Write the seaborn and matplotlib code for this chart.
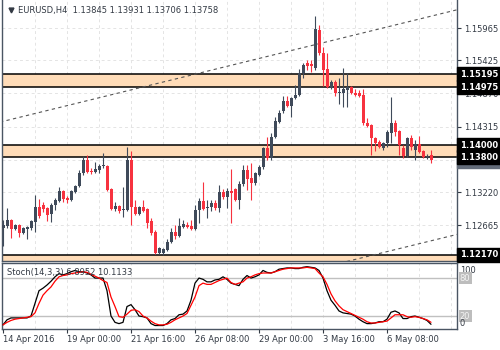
import matplotlib
matplotlib.use("Agg")
import matplotlib.pyplot as plt
import seaborn as sns
import numpy as np
import pandas as pd

# ---------------- data ----------------
symbol_title = "EURUSD,H4  1.13845 1.13931 1.13706 1.13758"
stoch_title = "Stoch(14,3,3) 6.8952 10.1133"

opens = [1.1262, 1.1265, 1.1275, 1.1260, 1.1267, 1.1253, 1.1260, 1.1262, 1.1272, 1.1297,
         1.1300, 1.1295, 1.1285, 1.1300, 1.1307, 1.1324, 1.1312, 1.1309, 1.1322, 1.1332,
         1.1354, 1.1376, 1.1357, 1.1355, 1.1359, 1.1365, 1.1365, 1.1327, 1.1294, 1.1299,
         1.1292, 1.1292, 1.1376, 1.1297, 1.1285, 1.1297, 1.1294, 1.1274, 1.1255, 1.1220,
         1.1220, 1.1225, 1.1238, 1.1255, 1.1248, 1.1263, 1.1267, 1.1265, 1.1260, 1.1292,
         1.1307, 1.1295, 1.1297, 1.1304, 1.1295, 1.1322, 1.1314, 1.1324, 1.1327, 1.1309,
         1.1335, 1.1359, 1.1345, 1.1337, 1.1350, 1.1364, 1.1396, 1.1379, 1.1414, 1.1439,
         1.1458, 1.1474, 1.1466, 1.1479, 1.1484, 1.1521, 1.1538, 1.1536, 1.1530, 1.1593,
         1.1555, 1.1528, 1.1496, 1.1506, 1.1488, 1.1488, 1.1493, 1.1498, 1.1488, 1.1488,
         1.1484, 1.1438, 1.1434, 1.1412, 1.1406, 1.1396, 1.1404, 1.1421, 1.1438, 1.1424,
         1.1396, 1.1382, 1.1412, 1.1392, 1.1402, 1.1391, 1.1381, 1.13845]
highs = [1.1275, 1.1295, 1.1277, 1.1269, 1.1269, 1.1263, 1.1265, 1.1275, 1.1317, 1.1310,
         1.1305, 1.1297, 1.1304, 1.1312, 1.1330, 1.1325, 1.1315, 1.1325, 1.1334, 1.1359,
         1.1382, 1.1384, 1.1362, 1.1372, 1.1369, 1.1387, 1.1367, 1.1329, 1.1305, 1.1300,
         1.1330, 1.1397, 1.1391, 1.1309, 1.1299, 1.1309, 1.1295, 1.1279, 1.1258, 1.1230,
         1.1228, 1.1243, 1.1262, 1.1267, 1.1279, 1.1275, 1.1272, 1.1275, 1.1300, 1.1312,
         1.1339, 1.1309, 1.1309, 1.1309, 1.1334, 1.1327, 1.1329, 1.1360, 1.1329, 1.1340,
         1.1367, 1.1367, 1.1371, 1.1355, 1.1367, 1.1397, 1.1414, 1.1421, 1.1448, 1.1459,
         1.1483, 1.1483, 1.1481, 1.1501, 1.1528, 1.1538, 1.1543, 1.1543, 1.1617, 1.1602,
         1.1565, 1.1555, 1.1509, 1.1509, 1.1513, 1.1530, 1.1521, 1.1499, 1.1494, 1.1493,
         1.1494, 1.1446, 1.1436, 1.1414, 1.1409, 1.1406, 1.1426, 1.1481, 1.1443, 1.1426,
         1.1401, 1.1414, 1.1417, 1.1409, 1.1416, 1.1392, 1.1386, 1.13931]
lows = [1.1231, 1.1262, 1.1245, 1.1258, 1.1247, 1.1252, 1.1243, 1.1258, 1.1255, 1.1279,
        1.1289, 1.1274, 1.1272, 1.1292, 1.1305, 1.1305, 1.1304, 1.1307, 1.1320, 1.1330,
        1.1350, 1.1354, 1.1352, 1.1354, 1.1354, 1.1362, 1.1324, 1.1292, 1.1290, 1.1287,
        1.1280, 1.1290, 1.1267, 1.1284, 1.1284, 1.1289, 1.1262, 1.1250, 1.1218, 1.1218,
        1.1216, 1.1223, 1.1237, 1.1243, 1.1247, 1.1262, 1.1262, 1.1258, 1.1258, 1.1270,
        1.1292, 1.1279, 1.1290, 1.1292, 1.1289, 1.1310, 1.1295, 1.1270, 1.1307, 1.1294,
        1.1332, 1.1325, 1.1309, 1.1334, 1.1349, 1.1360, 1.1376, 1.1376, 1.1412, 1.1438,
        1.1454, 1.1464, 1.1448, 1.1478, 1.1483, 1.1513, 1.1526, 1.1523, 1.1526, 1.1551,
        1.1499, 1.1496, 1.1494, 1.1483, 1.1469, 1.1464, 1.1464, 1.1486, 1.1483, 1.1481,
        1.1434, 1.1431, 1.1384, 1.1391, 1.1396, 1.1392, 1.1397, 1.1404, 1.1416, 1.1384,
        1.1379, 1.1381, 1.1392, 1.1376, 1.1387, 1.1379, 1.1378, 1.13706]
closes = [1.1267, 1.1275, 1.1260, 1.1267, 1.1253, 1.1262, 1.1263, 1.1274, 1.1297, 1.1282,
          1.1294, 1.1284, 1.1300, 1.1309, 1.1324, 1.1310, 1.1309, 1.1324, 1.1332, 1.1354,
          1.1376, 1.1355, 1.1355, 1.1360, 1.1365, 1.1367, 1.1325, 1.1294, 1.1299, 1.1290,
          1.1294, 1.1376, 1.1297, 1.1285, 1.1297, 1.1290, 1.1270, 1.1253, 1.1220, 1.1228,
          1.1226, 1.1238, 1.1255, 1.1248, 1.1265, 1.1269, 1.1263, 1.1260, 1.1292, 1.1307,
          1.1294, 1.1297, 1.1304, 1.1295, 1.1322, 1.1314, 1.1324, 1.1320, 1.1309, 1.1335,
          1.1359, 1.1344, 1.1337, 1.1354, 1.1364, 1.1396, 1.1379, 1.1414, 1.1441, 1.1454,
          1.1474, 1.1466, 1.1479, 1.1484, 1.1521, 1.1535, 1.1533, 1.1533, 1.1595, 1.1555,
          1.1526, 1.1498, 1.1506, 1.1488, 1.1489, 1.1494, 1.1498, 1.1488, 1.1484, 1.1483,
          1.1438, 1.1433, 1.1412, 1.1404, 1.1397, 1.1404, 1.1422, 1.1438, 1.1422, 1.1401,
          1.1382, 1.1412, 1.1397, 1.1402, 1.1389, 1.1381, 1.1382, 1.13758]

stoch_main = [6, 14, 17, 17, 17, 17, 17, 20, 40, 60,
              64, 69, 75, 82, 87, 85, 87, 90, 92, 90,
              90, 88, 85, 80, 80, 80, 60, 20, 10, 8,
              10, 35, 38, 30, 20, 19, 17, 8, 5, 5,
              5, 8, 14, 16, 22, 23, 28, 45, 72, 80,
              78, 74, 74, 77, 78, 82, 78, 72, 70, 68,
              78, 84, 80, 82, 85, 92, 89, 88, 90, 94,
              95, 96, 96, 95, 95, 97, 98, 97, 96, 92,
              80, 60, 45, 37, 28, 25, 24, 23, 20, 15,
              11, 8, 8, 9, 11, 11, 15, 26, 28, 25,
              16, 16, 19, 20, 18, 16, 13, 6.9]
stoch_signal = [6, 10, 13, 15, 16, 17, 18, 19, 25, 40,
                53, 60, 66, 75, 82, 84, 85, 87, 88, 89,
                90, 89, 86, 83, 80, 76, 73, 50, 35, 19,
                18, 23, 29, 30, 27, 20, 17, 12, 8, 6,
                6, 7, 10, 14, 17, 20, 24, 37, 50, 68,
                72, 70, 70, 73, 76, 78, 80, 73, 70, 72,
                74, 80, 82, 85, 87, 88, 88, 88, 90, 92,
                94, 95, 96, 96, 96, 96, 97, 96, 95, 88,
                82, 70, 55, 44, 36, 30, 27, 24, 21, 18,
                15, 11, 9, 9, 10, 11, 12, 17, 22, 22,
                22, 19, 18, 19, 18, 16, 14, 10.1]

price_ticks = [1.15965, 1.15425, 1.14870, 1.14315, 1.13760, 1.13220, 1.12665]
price_tick_labels = ["1.15965", "1.15425", "1.14870", "1.14315", "", "1.13220", "1.12665"]
zones = [(1.14975, 1.15195), (1.13800, 1.14000), (1.12000, 1.12170)]
level_tags = [1.15195, 1.14975, 1.14000, 1.13800, 1.12170]
current_price = 1.13758
date_pos = [0, 16, 32, 48, 64, 80, 96]
date_labels = ["14 Apr 2016", "19 Apr 00:00", "21 Apr 16:00", "26 Apr 08:00",
               "29 Apr 00:00", "3 May 16:00", "6 May 08:00"]
upper_trend_x = [-0.75, 113.5]
upper_trend_y = [1.1439, 1.1627]
lower_trend_x = [60, 113.5]
lower_trend_y = [1.1163, 1.1251]
stoch_levels = [20, 80]

# ---------------- style ----------------
sns.set_theme(style="white")
plt.rcParams["font.family"] = ["DejaVu Sans"]
TXT = "#333a44"
SPINE = "#4a5563"
BULL = "#3f4a5a"
BEAR = "#f7323f"
GRID = "#e4e4e4"
ZONE = "#ffdcb8"

fig = plt.figure(figsize=(5, 3.5), dpi=100, facecolor="white")
ax = fig.add_axes([0.004, 1 - 261 / 350, 0.91, 261 / 350])
ax2 = fig.add_axes([0.004, 1 - 329 / 350, 0.91, 66 / 350])

df = pd.DataFrame({"o": opens, "h": highs, "l": lows, "c": closes})
df["bar"] = np.arange(len(df))
df["bull"] = df["c"] >= df["o"]
cols = np.where(df["bull"], BULL, BEAR)

xmin, xmax = -0.25, 113.5

# ---- main panel ----
for lo, hi in zones:
    ax.axhspan(lo, hi, color=ZONE, lw=0, zorder=1)
    ax.axhline(lo, color="black", lw=1.1, zorder=2)
    ax.axhline(hi, color="black", lw=1.1, zorder=2)

for g in range(8, 114, 8):
    ax.axvline(g, color=GRID, lw=0.7, ls=(0, (3, 3)), zorder=0.5)
    ax2.axvline(g, color=GRID, lw=0.7, ls=(0, (3, 3)), zorder=0.5)
for p in price_ticks:
    ax.axhline(p, color=GRID, lw=0.7, ls=(0, (3, 3)), zorder=0.5)

sns.lineplot(x=upper_trend_x, y=upper_trend_y, ax=ax, color="#555555", lw=0.8,
             linestyle=(0, (3, 3)), zorder=2.5)
sns.lineplot(x=lower_trend_x, y=lower_trend_y, ax=ax, color="#555555", lw=0.8,
             linestyle=(0, (3, 3)), zorder=2.5)

ax.vlines(df["bar"], df["l"], df["h"], colors=cols, lw=0.8, zorder=3)
body_lo = np.minimum(df["o"], df["c"])
body_h = np.maximum(np.abs(df["c"] - df["o"]), 0.00012)
ax.bar(df["bar"], body_h, bottom=body_lo, width=0.75, color=cols, lw=0, zorder=4)

ax.set_xlim(xmin, xmax)
ax.set_ylim(1.12065, 1.16434)
ax.set_xticks([])
ax.yaxis.tick_right()
ax.set_yticks(price_ticks)
ax.set_yticklabels(price_tick_labels)
ax.tick_params(axis="y", labelsize=6, colors=TXT, length=3, width=0.8, pad=2, right=True)
ax.set_xlabel("")
ax.set_ylabel("")
for s in ["left", "right", "bottom"]:
    ax.spines[s].set_color(SPINE)
    ax.spines[s].set_linewidth(1)
ax.spines["top"].set_visible(False)

ax.annotate(f"{current_price:.5f}", xy=(1.0, current_price),
            xycoords=("axes fraction", "data"), xytext=(2, -1), textcoords="offset points",
            ha="left", va="center", fontsize=6, color="white", fontweight="bold",
            bbox=dict(boxstyle="square,pad=0.3", fc="#646d7a", ec="#646d7a"),
            annotation_clip=False, zorder=9)
for p in level_tags:
    ax.annotate(f"{p:.5f}", xy=(1.0, p), xycoords=("axes fraction", "data"),
                xytext=(2, 0), textcoords="offset points", ha="left", va="center",
                fontsize=6, color="white", fontweight="bold",
                bbox=dict(boxstyle="square,pad=0.3", fc="black", ec="black"),
                annotation_clip=False, zorder=10)

# ---- stochastic panel ----
for lv in stoch_levels:
    ax2.axhline(lv, color="#c0c0c0", lw=1, zorder=1)
bars = np.arange(len(stoch_main))
sns.lineplot(x=bars, y=stoch_main, ax=ax2, color="black", lw=0.9, zorder=3)
sns.lineplot(x=bars, y=stoch_signal, ax=ax2, color="red", lw=0.9, zorder=4)
ax2.set_xlim(xmin, xmax)
ax2.set_ylim(-0.5, 103.8)
ax2.set_yticks([])
ax2.set_xticks(date_pos)
ax2.set_xticklabels(date_labels)
ax2.tick_params(axis="x", labelsize=6, colors=TXT, length=3, width=0.8, pad=1.5,
                bottom=True, direction="out")
for lbl in ax2.get_xticklabels():
    lbl.set_ha("left")
ax2.set_xlabel("")
ax2.set_ylabel("")
for s in ax2.spines.values():
    s.set_color(SPINE)
    s.set_linewidth(1)

for val, txt, boxed in [(92.5, "100", False), (80, "80", True), (20, "20", True), (8, "0", False)]:
    kw = dict(xy=(1.0, val), xycoords=("axes fraction", "data"), xytext=(2, 0),
              textcoords="offset points", ha="left", va="center", fontsize=6,
              annotation_clip=False)
    if boxed:
        ax2.annotate(txt, color="#f4f4f4",
                     bbox=dict(boxstyle="square,pad=0.15", fc="#bdbdbd", ec="none"), **kw)
    else:
        ax2.annotate(txt, color=TXT, **kw)

# ---- titles ----
fig.add_artist(plt.Line2D([10.5 / 500], [1 - 10 / 350], marker="v", ms=3.5,
                          color=TXT, transform=fig.transFigure))
fig.text(18 / 500, 1 - 10 / 350, symbol_title, fontsize=6, color=TXT, va="center", ha="left")
fig.text(7 / 500, 1 - 272 / 350, stoch_title, fontsize=6, color=TXT, va="center", ha="left",
         zorder=10)

fig.savefig("out.png", dpi=100, facecolor="white")
